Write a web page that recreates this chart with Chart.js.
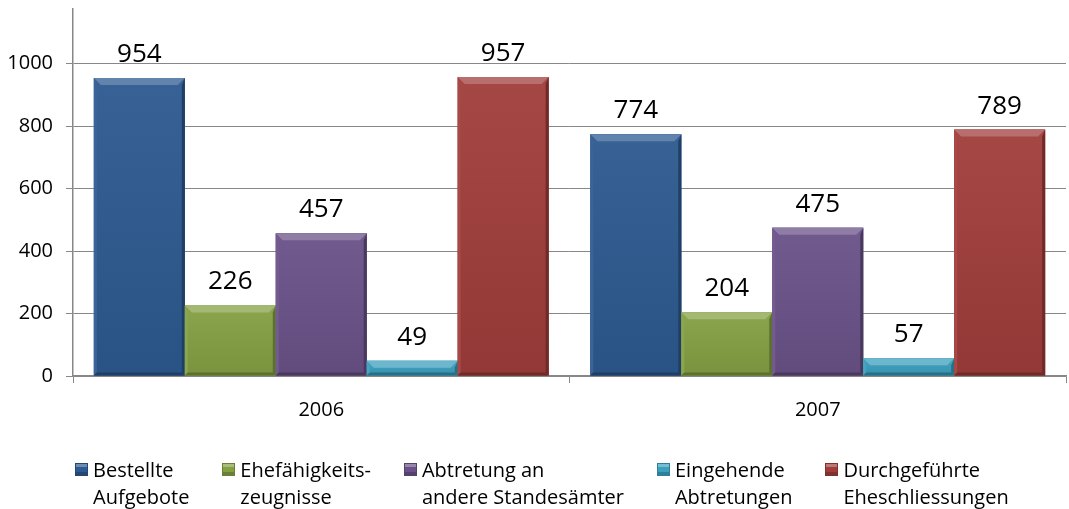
<!DOCTYPE html>
<html>
<head>
<meta charset="utf-8">
<script src="https://cdn.jsdelivr.net/npm/chart.js@4/dist/chart.umd.min.js"></script>
<style>
  html, body { margin: 0; padding: 0; background: #fff; }
  #wrap { position: relative; width: 1069px; height: 509px; overflow: hidden; }
  #legend {
    position: absolute; left: 75px; top: 457px;
    display: flex; gap: 33px;
    font-family: 'Open Sans', sans-serif; font-size: 20px; line-height: 26.5px; color: #000;
  }
  .item { display: flex; align-items: flex-start; }
  .box { width: 13px; height: 13px; margin-top: 6px; margin-right: 5px; box-sizing: border-box; }
</style>
</head>
<body>
<div id="wrap">
  <canvas id="chart" width="1069" height="509"></canvas>
  <div id="legend"></div>
</div>
<script>
// data
const years = ['2006', '2007'];
const seriesNames = [
  ['Bestellte', 'Aufgebote'],
  ['Ehefähigkeits-', 'zeugnisse'],
  ['Abtretung an', 'andere Standesämter'],
  ['Eingehende', 'Abtretungen'],
  ['Durchgeführte', 'Eheschliessungen']
];
const bestellteAufgebote = [954, 774];
const ehefaehigkeitszeugnisse = [226, 204];
const abtretungAn = [457, 475];
const eingehendeAbtretungen = [49, 57];
const durchgefuehrteEheschliessungen = [957, 789];
const yTicks = [0, 200, 400, 600, 800, 1000];

const colors = ['#2D5A90', '#84A043', '#6A5188', '#3B9FBE', '#A03D3B'];
const seriesValues = [bestellteAufgebote, ehefaehigkeitszeugnisse, abtretungAn,
  eingehendeAbtretungen, durchgefuehrteEheschliessungen];

const gridColor = '#878787';

// value labels above bars
const valueLabels = {
  id: 'valueLabels',
  afterDatasetsDraw(chart) {
    const ctx = chart.ctx;
    ctx.save();
    ctx.font = '26px "Open Sans"';
    ctx.fillStyle = '#000';
    ctx.textAlign = 'center';
    ctx.textBaseline = 'alphabetic';
    chart.data.datasets.forEach((ds, i) => {
      chart.getDatasetMeta(i).data.forEach((bar, j) => {
        ctx.fillText(String(ds.data[j]), bar.x, bar.y - 16);
      });
    });
    ctx.restore();
  }
};

// bevel look like the office chart
function shade(hex, amt) {
  const n = parseInt(hex.slice(1), 16);
  let r = (n >> 16) & 255, g = (n >> 8) & 255, b = n & 255;
  const f = v => Math.max(0, Math.min(255, Math.round(amt > 0 ? v + (255 - v) * amt : v * (1 + amt))));
  return `rgb(${f(r)},${f(g)},${f(b)})`;
}

const bevel = {
  id: 'bevel',
  afterDatasetsDraw(chart) {
    const ctx = chart.ctx;
    ctx.save();
    chart.data.datasets.forEach((ds, i) => {
      const c = colors[i];
      chart.getDatasetMeta(i).data.forEach(bar => {
        const x0 = bar.x - bar.width / 2, x1 = bar.x + bar.width / 2;
        const top = bar.y, bot = bar.base;
        const h = bot - top;
        const b = Math.min(7, h / 2);
        // body gradient
        const g = ctx.createLinearGradient(0, top, 0, bot);
        g.addColorStop(0, shade(c, 0.05));
        g.addColorStop(1, shade(c, -0.08));
        ctx.fillStyle = g;
        ctx.fillRect(x0, top, x1 - x0, h);
        // top
        ctx.fillStyle = shade(c, 0.25);
        ctx.beginPath();
        ctx.moveTo(x0, top); ctx.lineTo(x1, top); ctx.lineTo(x1 - b, top + b); ctx.lineTo(x0 + b, top + b);
        ctx.closePath(); ctx.fill();
        // left
        ctx.fillStyle = shade(c, 0.06);
        ctx.beginPath();
        ctx.moveTo(x0, top); ctx.lineTo(x0 + 3, top + b); ctx.lineTo(x0 + 3, bot - 3); ctx.lineTo(x0, bot);
        ctx.closePath(); ctx.fill();
        // right
        ctx.fillStyle = shade(c, -0.3);
        ctx.beginPath();
        ctx.moveTo(x1, top); ctx.lineTo(x1 - 3, top + b); ctx.lineTo(x1 - 3, bot - 3); ctx.lineTo(x1, bot);
        ctx.closePath(); ctx.fill();
        // bottom
        ctx.fillStyle = shade(c, -0.3);
        ctx.beginPath();
        ctx.moveTo(x0, bot); ctx.lineTo(x1, bot); ctx.lineTo(x1 - 3, bot - 3); ctx.lineTo(x0 + 3, bot - 3);
        ctx.closePath(); ctx.fill();
      });
    });
    ctx.restore();
  }
};

new Chart(document.getElementById('chart'), {
  type: 'bar',
  data: {
    labels: years,
    datasets: seriesValues.map((vals, i) => ({
      label: seriesNames[i].join(' '),
      data: vals,
      backgroundColor: colors[i],
      borderWidth: 0,
      categoryPercentage: 0.916,
      barPercentage: 1
    }))
  },
  options: {
    responsive: false,
    animation: false,
    layout: { padding: { top: 9, right: 3, left: 0, bottom: 0 } },
    plugins: { legend: { display: false }, tooltip: { enabled: false } },
    scales: {
      x: {
        grid: { drawOnChartArea: false, color: gridColor, tickLength: 7, offset: true },
        border: { color: gridColor, width: 1.5 },
        ticks: { color: '#000', font: { family: 'Open Sans', size: 20 }, padding: 15 },
        afterFit(scale) {
          scale.height = 133;
          scale.paddingLeft = 0;
          scale.paddingRight = 0;
        }
      },
      y: {
        min: 0,
        max: 1175,
        afterBuildTicks(scale) { scale.ticks = yTicks.map(v => ({ value: v })); },
        grid: { color: gridColor, tickLength: 7 },
        border: { color: gridColor, width: 1.5 },
        ticks: {
          color: '#000', font: { family: 'Open Sans', size: 20 }, padding: 13,
          callback: v => String(v)
        },
        afterFit(scale) {
          scale.width = 73;
          scale.paddingTop = 0;
          scale.paddingBottom = 0;
        }
      }
    }
  },
  plugins: [bevel, valueLabels]
});

// legend as html text, two lines per entry
const legend = document.getElementById('legend');
seriesNames.forEach((lines, i) => {
  const item = document.createElement('div');
  item.className = 'item';
  const box = document.createElement('div');
  box.className = 'box';
  box.style.background = `linear-gradient(180deg, ${shade(colors[i], 0.3)} 0 25%, ${colors[i]} 25% 75%, ${shade(colors[i], -0.2)} 75%)`;
  box.style.border = `1px solid ${shade(colors[i], -0.2)}`;
  const txt = document.createElement('div');
  txt.innerHTML = lines.join('<br>');
  item.appendChild(box);
  item.appendChild(txt);
  legend.appendChild(item);
});
</script>
</body>
</html>
